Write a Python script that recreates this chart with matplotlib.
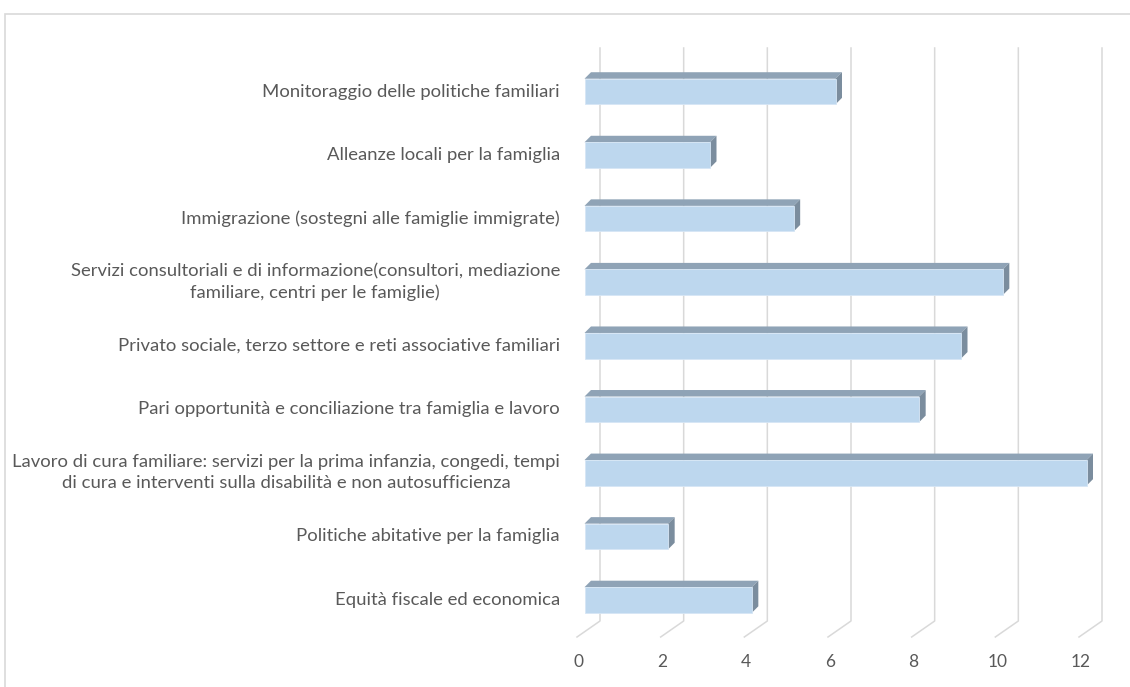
import matplotlib.pyplot as plt
from matplotlib.patches import Polygon, Rectangle

# categorie dal basso verso l'alto
categorie = [
    "Equità fiscale ed economica",
    "Politiche abitative per la famiglia",
    "Lavoro di cura familiare: servizi per la prima infanzia, congedi, tempi\n"
    "di cura e interventi sulla disabilità e non autosufficienza",
    "Pari opportunità e conciliazione tra famiglia e lavoro",
    "Privato sociale, terzo settore e reti associative familiari",
    "Servizi consultoriali e di informazione(consultori, mediazione\n"
    "familiare, centri per le famiglie)",
    "Immigrazione (sostegni alle famiglie immigrate)",
    "Alleanze locali per la famiglia",
    "Monitoraggio delle politiche familiari",
]
valori = [4, 2, 12, 8, 9, 10, 5, 3, 6]
ticks = [0, 2, 4, 6, 8, 10, 12]

W, H = 1130, 687
fig = plt.figure(figsize=(W / 100, H / 100), dpi=100)

# cornice del grafico (solo bordo superiore e sinistro visibili)
fig.patches.append(Rectangle((5 / W, -0.1), 1.2, 1.1 - 14 / H, transform=fig.transFigure,
                             fill=False, edgecolor="#D9D9D9", lw=1.2))

# area dati: x=valore (faccia frontale delle barre), y=indice categoria
left, right, bottom, top = 584.5, 1086.5, 637, 48
ax = fig.add_axes([left / W, 1 - bottom / H, (right - left) / W, (bottom - top) / H])
ux = (right - left) / 12.0      # px per unità
uy = 63.56                      # px per categoria
ax.set_xlim(0, 12)
ax.set_ylim(-(bottom - 600) / uy, (600 - top) / uy)
ax.axis("off")

grid_col = "#D9D9D9"
back_dx = 15.5 / ux
floor_dx = -7.5 / ux
y_back = -(621 - 600) / uy
y_floor = ax.get_ylim()[0]
y_top = ax.get_ylim()[1]
for t in ticks:
    ax.plot([t + back_dx, t + back_dx, t + floor_dx], [y_top, y_back, y_floor],
            color=grid_col, lw=1.1, clip_on=False, zorder=1)
    ax.text(t + floor_dx + 2 / ux, y_floor - 25 / uy, str(t), ha="center", va="center",
            fontsize=12.5, color="#595959", family="Lato")

# barre 3D
h = 12.8 / uy
ddx = 6.5 / ux
ddy = 6.5 / uy
front = "#BDD7EE"
top_c = "#8FA3B6"
side_c = "#7B8D9E"
for i, v in enumerate(valori):
    y0, y1 = i - h, i + h
    ax.add_patch(Polygon([(0, y1), (ddx, y1 + ddy), (v + ddx, y1 + ddy), (v, y1)],
                         closed=True, facecolor=top_c, edgecolor="none", clip_on=False, zorder=3))
    ax.add_patch(Polygon([(v, y0), (v + ddx, y0 + ddy), (v + ddx, y1 + ddy), (v, y1)],
                         closed=True, facecolor=side_c, edgecolor="none", clip_on=False, zorder=3))
    ax.add_patch(Rectangle((0, y0), v, 2 * h, facecolor=front, edgecolor="#D6E6F5",
                           lw=0.6, clip_on=False, zorder=4))
    ax.text(-(584.5 - 560) / ux, i, categorie[i], ha="right", va="center",
            multialignment="center", fontsize=13.3, color="#595959",
            family="Lato", linespacing=1.4)

fig.savefig("out.png", dpi=100)
